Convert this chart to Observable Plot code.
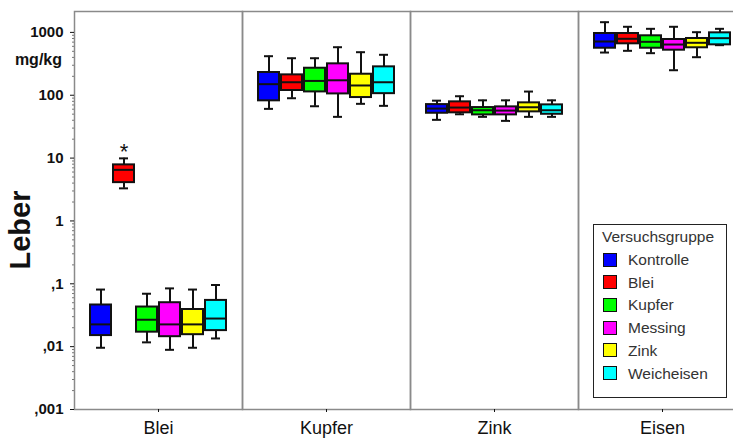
<!DOCTYPE html>
<html><head><meta charset="utf-8">
<script src="https://cdn.jsdelivr.net/npm/d3@7"></script>
<script src="https://cdn.jsdelivr.net/npm/@observablehq/plot@0.6"></script>
<style>
html,body{margin:0;padding:0;overflow:hidden;background:#fff;}
#wrap{position:relative;width:733px;height:439px;overflow:hidden;font-family:Arial,"Liberation Sans",sans-serif;}
#wrap svg{position:absolute;left:0;top:0;max-width:none !important;width:750px !important;height:439px !important;}
.lbl{position:absolute;white-space:nowrap;color:#111;}
</style></head><body><div id="wrap"></div>
<script>
const metals = ["Blei", "Kupfer", "Zink", "Eisen"];
const groups = ["Kontrolle", "Blei", "Kupfer", "Messing", "Zink", "Weicheisen"];
const colors = ["#0000ff", "#ff0000", "#00ff00", "#ff00ff", "#ffff00", "#00ffff"];
// [low whisker, Q1, median, Q3, high whisker] per group
const bleiStats = [
  [0.0096, 0.015, 0.0226, 0.046, 0.081],
  [3.3, 4.07, 6.5, 7.8, 9.9],
  [0.0117, 0.017, 0.0268, 0.0427, 0.0695],
  [0.0089, 0.0144, 0.0226, 0.05, 0.0845],
  [0.0096, 0.0155, 0.0226, 0.039, 0.081],
  [0.0135, 0.018, 0.028, 0.0544, 0.0956]
];
const kupferStats = [
  [60.7, 81.5, 150, 230, 418],
  [89.6, 119, 161, 211, 388],
  [66.8, 113, 169, 269, 388],
  [45.3, 105, 173, 316, 581],
  [73, 91.9, 143, 216, 484],
  [67.8, 106, 161, 283, 440]
];
const zinkStats = [
  [40.6, 51.7, 61.4, 71, 82],
  [49.8, 52.5, 63.7, 78.5, 96.4],
  [45.3, 48.7, 57.7, 63.7, 83],
  [39.1, 48.7, 57, 65.3, 83],
  [45.3, 54.4, 64.4, 75.7, 114.5],
  [45.3, 49.8, 57.7, 70.3, 83]
];
const eisenStats = [
  [478, 560, 716, 960, 1453],
  [509, 658, 791, 960, 1228],
  [467, 560, 708, 883, 1140],
  [250, 521, 641, 771, 1228],
  [403, 569, 683, 800, 1007],
  [626, 634, 809, 984, 1140]
];
const outlierMetal = ["Blei"];
const outlierGroup = ["Blei"];
const outlierValue = [15.8];
const yTicks = [0.001, 0.01, 0.1, 1, 10, 100, 1000];
const yTickLabels = [",001", ",01", ",1", "1", "10", "100", "1000"];
const yUnit = "mg/kg";
const yTitle = "Leber";
const legendTitle = "Versuchsgruppe";

const allStats = [bleiStats, kupferStats, zinkStats, eisenStats];
const rows = [];
metals.forEach((m, i) => groups.forEach((g, j) => {
  const s = allStats[i][j];
  rows.push({metal: m, group: g, low: s[0], q1: s[1], median: s[2], q3: s[3], high: s[4]});
}));
const outliers = outlierValue.map((v, i) => ({metal: outlierMetal[i], group: outlierGroup[i], value: v}));
const minorTicks = [];
for (let e = -3; e < 3; e++) for (let k = 2; k <= 9; k++) minorTicks.push(k * Math.pow(10, e));

const chart = Plot.plot({
  width: 750, height: 439,
  marginLeft: 73, marginRight: 4, marginTop: 11, marginBottom: 30,
  style: {fontFamily: "Arial, 'Liberation Sans', sans-serif", background: "white", color: "#111", maxWidth: "none"},
  fx: {domain: metals, padding: 0, label: null},
  x: {domain: groups, paddingInner: 0.1, paddingOuter: 0.63, axis: null},
  y: {type: "log", domain: [0.001, 2150], axis: null},
  color: {domain: groups, range: colors},
  marks: [
    Plot.frame({stroke: "#8a8a8a", strokeWidth: 1.5}),
    Plot.axisY({ticks: minorTicks, tickSize: 2, tickFormat: () => "", label: null, stroke: "#777"}),
    Plot.axisY({ticks: yTicks, tickSize: 4, tickPadding: 7, label: null,
      tickFormat: d => yTickLabels[yTicks.indexOf(d)], fontSize: 15, fontWeight: "bold"}),
    Plot.axisFx({anchor: "bottom", tickSize: 3, tickPadding: 9, fontSize: 18, label: null}),
    Plot.ruleX(rows, {x: "group", fx: "metal", y1: "low", y2: "q1", stroke: "#111", strokeWidth: 2}),
    Plot.ruleX(rows, {x: "group", fx: "metal", y1: "q3", y2: "high", stroke: "#111", strokeWidth: 2}),
    Plot.tickY(rows, {x: "group", fx: "metal", y: "low", insetLeft: 6, insetRight: 6, stroke: "#111", strokeWidth: 2}),
    Plot.tickY(rows, {x: "group", fx: "metal", y: "high", insetLeft: 6, insetRight: 6, stroke: "#111", strokeWidth: 2}),
    Plot.barY(rows, {x: "group", fx: "metal", y1: "q1", y2: "q3", fill: "group", stroke: "#111", strokeWidth: 2}),
    Plot.tickY(rows, {x: "group", fx: "metal", y: "median", stroke: "#111", strokeWidth: 2}),
    Plot.text(outliers, {x: "group", fx: "metal", y: "value", text: () => "*", fontSize: 22, dy: 6, fill: "#111"})
  ]
});
const wrap = document.getElementById("wrap");
wrap.appendChild(chart);

function addLabel(text, style) {
  const d = document.createElement("div");
  d.className = "lbl";
  d.textContent = text;
  Object.assign(d.style, style);
  wrap.appendChild(d);
  return d;
}
addLabel(yUnit, {right: (733 - 62) + "px", top: "50px", fontSize: "16px", fontWeight: "bold", lineHeight: "20px"});
addLabel(yTitle, {left: "20px", top: "230px", fontSize: "29px", fontWeight: "bold", lineHeight: "29px",
  transform: "translate(-50%,-50%) rotate(-90deg)"});

// legend
const box = document.createElement("div");
Object.assign(box.style, {position: "absolute", left: "593px", top: "224px", width: "132px", height: "172px",
  border: "1.5px solid #222", background: "#fff"});
wrap.appendChild(box);
addLabel(legendTitle, {left: "602px", top: "227px", fontSize: "15.5px", lineHeight: "20px", color: "#333"});
groups.forEach((g, i) => {
  const cy = 260 + i * 22.7;
  const sw = document.createElement("div");
  Object.assign(sw.style, {position: "absolute", left: "603px", top: (cy - 7.5) + "px", width: "12px", height: "12px",
    background: colors[i], border: "1.5px solid #111"});
  wrap.appendChild(sw);
  addLabel(g, {left: "628px", top: (cy - 10) + "px", fontSize: "15.5px", lineHeight: "20px", color: "#333"});
});
</script></body></html>
